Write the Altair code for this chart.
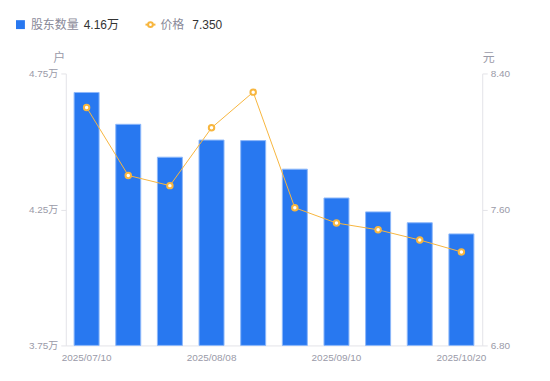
import altair as alt
import pandas as pd

dates = ["2025/07/10", "2025/07/20", "2025/07/31", "2025/08/08", "2025/08/20",
         "2025/08/29", "2025/09/10", "2025/09/19", "2025/09/30", "2025/10/20"]
holders = [4.680, 4.563, 4.442, 4.505, 4.503, 4.398, 4.292, 4.241, 4.201, 4.160]
prices = [8.20, 7.80, 7.74, 8.08, 8.29, 7.61, 7.52, 7.48, 7.42, 7.35]
shown_labels = ["2025/07/10", "2025/08/08", "2025/09/10", "2025/10/20"]

df = pd.DataFrame({"date": dates, "holders": holders, "price": prices})

FONT = "Liberation Sans, Noto Sans CJK SC"
CJK = "Noto Sans CJK SC"
GRAY = "#9a9aa8"
AXIS = "#e3e3e8"
BLUE = "#2878f0"
ORANGE = "#f7b63f"

label_test = " || ".join([f"datum.value == '{d}'" for d in shown_labels])

x = alt.X("date:N", sort=dates, title=None,
          scale=alt.Scale(paddingInner=0.4, paddingOuter=0.2),
          axis=alt.Axis(labelExpr=f"({label_test}) ? datum.value : ''",
                        labelAngle=0, labelColor=GRAY, labelFont=FONT, labelFontSize=10,
                        domainColor=AXIS, ticks=False, labelPadding=7))

price_scale = alt.Scale(domain=[6.8, 8.4], nice=False, zero=False)

bars = alt.Chart(df).mark_bar(color=BLUE, stroke="#8db8fa", strokeWidth=1).encode(
    x=x,
    y=alt.Y("holders:Q", scale=alt.Scale(domain=[3.75, 4.75], nice=False, zero=False, clamp=True),
            axis=alt.Axis(values=[3.75, 4.25, 4.75], labelExpr="format(datum.value, '.2f') + '万'",
                          grid=False, labelColor=GRAY, labelFont=FONT, labelFontSize=10,
                          domainColor=AXIS, tickColor=AXIS, tickSize=5, labelPadding=3,
                          title="户", titleAngle=0, titleColor=GRAY, titleFont=CJK,
                          titleFontSize=12, titleFontWeight="normal",
                          titleX=-7, titleY=-9, titleAlign="center", titleBaseline="bottom"))
)

line = alt.Chart(df).mark_line(color=ORANGE, strokeWidth=1).encode(
    x=x,
    y=alt.Y("price:Q", scale=price_scale,
            axis=alt.Axis(orient="right", values=[6.8, 7.6, 8.4], format=".2f",
                          grid=False, labelColor=GRAY, labelFont=FONT, labelFontSize=10,
                          domainColor=AXIS, tickColor=AXIS, tickSize=5, labelPadding=3,
                          title="元", titleAngle=0, titleColor=GRAY, titleFont=CJK,
                          titleFontSize=12, titleFontWeight="normal",
                          titleX=6, titleY=-9, titleAlign="center", titleBaseline="bottom"))
)
points = alt.Chart(df).mark_point(color=ORANGE, fill="white", filled=True, stroke=ORANGE,
                                  strokeWidth=2, size=30, opacity=1).encode(
    x=x, y=alt.Y("price:Q", scale=price_scale)
)

# custom legend
leg = pd.DataFrame({"k": [0]})
LY = -49
sq = alt.Chart(leg).mark_square(color=BLUE, size=80, opacity=1).encode(
    x=alt.value(-45.5), y=alt.value(LY))
t1 = alt.Chart(leg).mark_text(text="股东数量", align="left", baseline="middle", font=CJK,
                              fontSize=12, color="#8a8a99").encode(x=alt.value(-35), y=alt.value(LY))
v1 = alt.Chart(leg).mark_text(text="4.16万", align="left", baseline="middle", font=FONT,
                              fontSize=12, color="#333333").encode(x=alt.value(18), y=alt.value(LY))
lg = alt.Chart(leg).mark_rule(color=ORANGE, strokeWidth=2).encode(
    x=alt.value(80), x2=alt.value(90), y=alt.value(LY))
lp = alt.Chart(leg).mark_point(color=ORANGE, fill="white", filled=True, stroke=ORANGE,
                               strokeWidth=2, size=22, opacity=1).encode(x=alt.value(85), y=alt.value(LY))
t2 = alt.Chart(leg).mark_text(text="价格", align="left", baseline="middle", font=CJK,
                              fontSize=12, color="#8a8a99").encode(x=alt.value(95), y=alt.value(LY))
v2 = alt.Chart(leg).mark_text(text="7.350", align="left", baseline="middle", font=FONT,
                              fontSize=12, color="#333333").encode(x=alt.value(127), y=alt.value(LY))

main = alt.layer(bars, alt.layer(line, points)).resolve_scale(y="independent")
chart = alt.layer(main, sq, t1, v1, lg, lp, t2, v2).properties(
    width=418, height=273,
    background="white",
    autosize=alt.AutoSizeParams(type="none"),
    padding={"left": 58, "top": 65, "right": 60, "bottom": 30},
).configure_view(stroke=None)

chart.save("out.html", embed_options={"renderer": "svg", "actions": False})
